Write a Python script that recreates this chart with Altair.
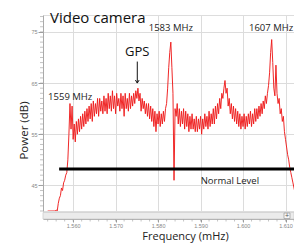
import altair as alt
import pandas as pd

# ---- data ----
freq_start = 1.5540
freq_step = 0.00025
power_db = [
    40, 40, 40, 40, 40, 40, 40, 40, 40.2, 40,
    41.5, 42.5, 43, 44.5, 44, 45.5, 46, 47, 47.5, 50,
    55, 61, 56, 60.5, 54, 57, 53.5, 57.5, 55, 58,
    55.5, 58.5, 56, 59, 56.5, 59.5, 57, 60, 57.5, 60.5,
    58, 61, 57.5, 61.5, 58.5, 61, 59, 62, 58.5, 62,
    59.5, 61.5, 59, 62.5, 59.5, 62, 59, 63, 60, 62.5,
    59.5, 63.5, 60, 62.5, 59, 63, 60.5, 62, 59.5, 63,
    60, 62.5, 58.5, 63, 60, 62, 59.5, 63, 60, 62.5,
    60.5, 63, 61, 63.5, 62, 64, 61.5, 63, 59.5, 62,
    60, 61.5, 59, 61, 58.5, 61, 58, 60.5, 57.5, 60,
    56.5, 59.5, 55.5, 59, 57, 59.5, 56.5, 59, 57, 59.5,
    57.5, 60, 61, 64, 68, 71, 73, 68, 63, 46,
    60, 58.5, 61, 57, 60, 56.5, 59.5, 57, 60, 56,
    59.5, 56.5, 59, 55.5, 58.5, 56, 59, 56, 58, 55.5,
    58.5, 55.5, 58, 56, 58.5, 55, 58, 56, 59, 56.5,
    58.5, 56, 59.5, 56.5, 59, 57, 60, 57, 60.5, 58,
    61, 59, 62, 60, 63, 62, 64, 65.5, 63, 64,
    60.5, 62, 59, 61, 58, 60.5, 57.5, 60, 57, 59.5,
    56.5, 59, 56, 58.5, 56.5, 59, 56, 58.5, 56.5, 59,
    57, 59.5, 56.5, 59, 57, 60, 57.5, 60, 58, 60.5,
    58.5, 61, 59, 61.5, 60, 62.5, 61, 63, 64.5, 67,
    71, 73.5, 69, 64, 62.5, 68.5, 63, 61, 62, 59,
    60, 57.5, 58.5, 55.5, 54, 52.5, 51, 50, 48.5, 47.5,
    46.5, 45.5, 44.5, 43.5, 42.5, 41.5, 41, 40,
]
freqs = [round(freq_start + i * freq_step, 5) for i in range(len(power_db))]

x_ticks = [1.56, 1.57, 1.58, 1.59, 1.60, 1.61]
y_ticks = [45, 50, 55, 60, 65, 70, 75]
x_minor = [round(1.554 + 0.002 * i, 3) for i in range(30)]
y_minor = list(range(40, 79))

label_text = ["1559 MHz", "1583 MHz", "1607 MHz", "Normal Level"]
label_freq = [1.5593, 1.5830, 1.6066, 1.5969]
label_db = [62.3, 75.8, 75.8, 45.9]

gps_freq = 1.5751
normal_level = 48.2
normal_from, normal_to = 1.5567, 1.6120

W, H = 251, 196
FONT = "Open Sans"

xs = alt.Scale(domain=[1.5529, 1.6120], nice=False, zero=False)
ys = alt.Scale(domain=[40, 78.3], nice=False, zero=False)

df = pd.DataFrame({"f": freqs, "p": power_db})

spectrum = alt.Chart(df).mark_line(color="#ee1c1c", strokeWidth=1, opacity=0.95, clip=True).encode(
    x=alt.X("f:Q", scale=xs, axis=alt.Axis(
        values=x_ticks, format=".3f", offset=8, grid=True, gridColor="#dcdcdc",
        labelFontSize=5.5, labelColor="#888", tickColor="#999", tickSize=3,
        domainColor="#aaa", labelPadding=1,
        title="Frequency (mHz)", titleFont=FONT, titleFontSize=11, titleFontWeight="normal",
        titleColor="#222", titleX=142, titleY=17, titleBaseline="middle")),
    y=alt.Y("p:Q", scale=ys, axis=alt.Axis(
        values=y_ticks, grid=True, gridColor="#dcdcdc",
        labelFontSize=5.5, labelColor="#888", tickColor="#999", tickSize=5,
        domainColor="#aaa", labelPadding=1,
        title="Power (dB)", titleFont=FONT, titleFontSize=11.5, titleFontWeight="normal",
        titleColor="#222", titleX=-19, titleY=115, titleBaseline="middle")),
)

ymin_df = pd.DataFrame({"v": y_minor})
y_minor_ticks = alt.Chart(ymin_df).mark_rule(color="#aaa", strokeWidth=0.7).encode(
    y=alt.Y("v:Q", scale=ys), x=alt.value(-3), x2=alt.value(0))

xmin_df = pd.DataFrame({"v": x_minor})
x_minor_ticks = alt.Chart(xmin_df).mark_rule(color="#aaa", strokeWidth=0.7).encode(
    x=alt.X("v:Q", scale=xs), y=alt.value(H + 8), y2=alt.value(H + 10.5))

scroll = alt.Chart(pd.DataFrame({"a": [0]})).mark_rect(fill="#ebebeb", stroke="#c8c8c8", strokeWidth=0.7).encode(
    x=alt.value(0), x2=alt.value(W), y=alt.value(H + 1.5), y2=alt.value(H + 8))
scroll_btn = alt.Chart(pd.DataFrame({"a": [0]})).mark_rect(fill="#f6f6f6", stroke="#999", strokeWidth=0.7).encode(
    x=alt.value(W - 10), x2=alt.value(W - 4), y=alt.value(H + 2), y2=alt.value(H + 7.5))
scroll_txt = alt.Chart(pd.DataFrame({"t": ["+"]})).mark_text(fontSize=7, color="#555", baseline="middle").encode(
    x=alt.value(W - 7), y=alt.value(H + 5), text="t:N")

level_df = pd.DataFrame({"f0": [normal_from], "f1": [normal_to], "lv": [normal_level]})
level = alt.Chart(level_df).mark_rule(color="black", strokeWidth=3).encode(
    x=alt.X("f0:Q", scale=xs), x2="f1:Q", y=alt.Y("lv:Q", scale=ys))

lab_df = pd.DataFrame({"t": label_text, "f": label_freq, "d": label_db})
labels = alt.Chart(lab_df).mark_text(font=FONT, fontSize=9.5, color="#222", baseline="middle").encode(
    x=alt.X("f:Q", scale=xs), y=alt.Y("d:Q", scale=ys), text="t:N")

gps_df = pd.DataFrame({"t": ["GPS"], "f": [gps_freq], "d": [71.1], "a0": [69.2], "a1": [65.0]})
gps_label = alt.Chart(gps_df).mark_text(font=FONT, fontSize=13, color="#111", baseline="middle").encode(
    x=alt.X("f:Q", scale=xs), y=alt.Y("d:Q", scale=ys), text="t:N")
gps_shaft = alt.Chart(gps_df).mark_rule(color="#111", strokeWidth=1).encode(
    x=alt.X("f:Q", scale=xs), y=alt.Y("a0:Q", scale=ys), y2="a1:Q")
gps_head = alt.Chart(gps_df).mark_point(shape="M-1,-1.6L0,0L1,-1.6", filled=False, color="#111",
                                        strokeWidth=1, size=14, opacity=1).encode(
    x=alt.X("f:Q", scale=xs), y=alt.Y("a1:Q", scale=ys))

title = alt.Chart(pd.DataFrame({"t": ["Video camera"]})).mark_text(
    font=FONT, fontSize=15, color="#111", align="left", baseline="alphabetic").encode(
    x=alt.value(7), y=alt.value(7.5), text="t:N")

chart = alt.layer(
    spectrum, scroll, scroll_btn, scroll_txt, y_minor_ticks, x_minor_ticks, level, labels,
    gps_label, gps_shaft, gps_head, title,
).properties(
    width=W, height=H,
    autosize=alt.AutoSizeParams(type="none"),
    padding={"left": 35, "top": 7, "right": 0, "bottom": 32},
).configure_view(stroke="#bbb", strokeWidth=0.8).configure(background="white")

chart.save("out.html", embed_options={"renderer": "svg", "actions": False})
